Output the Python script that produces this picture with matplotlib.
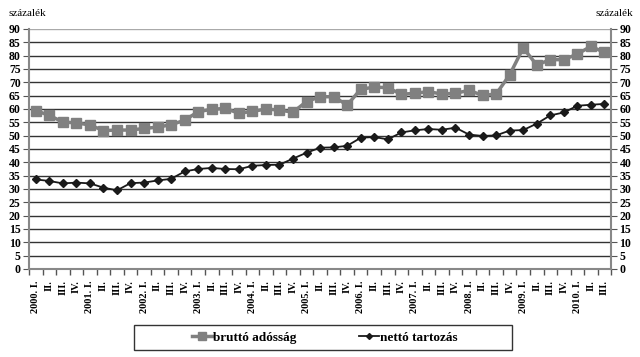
import matplotlib
matplotlib.use("Agg")
import matplotlib.pyplot as plt
from matplotlib.ticker import FixedLocator
from matplotlib.patches import Rectangle

years = list(range(2000, 2011))
quarters = ["I.", "II.", "III.", "IV."]
labels = []
for y in years:
    for qi, q in enumerate(quarters):
        if y == 2010 and qi == 3:
            break
        labels.append(f"{y}. {q}" if qi == 0 else q)

brutto = [59.4, 57.6, 55.1, 54.8, 54.0, 51.9, 52.1, 52.1, 52.7, 53.2, 54.1, 55.8,
          59.0, 59.9, 60.2, 58.4, 59.1, 60.0, 59.6, 58.8, 62.8, 64.6, 64.6, 61.5,
          67.4, 68.2, 68.0, 65.5, 65.9, 66.5, 65.6, 65.9, 67.0, 65.1, 65.6, 72.8,
          82.9, 76.5, 78.5, 78.5, 80.6, 83.5, 81.2]
netto = [33.6, 33.0, 32.1, 32.4, 32.1, 30.5, 29.5, 32.2, 32.4, 33.2, 33.8, 36.6,
         37.5, 37.9, 37.5, 37.4, 38.7, 39.0, 39.1, 41.4, 43.6, 45.5, 45.6, 46.2,
         49.2, 49.5, 48.6, 51.2, 52.0, 52.5, 52.2, 53.0, 50.4, 49.9, 50.1, 51.9,
         52.1, 54.5, 57.6, 58.7, 61.2, 61.6, 61.9]
series_names = ["bruttó adósság", "nettó tartozás"]
yticks = list(range(0, 91, 5))

plt.rcParams['font.family'] = ['Liberation Serif', 'DejaVu Serif']

fig = plt.figure(figsize=(6.4, 3.57), dpi=100)
ax = fig.add_axes([0.0453, 0.2465, 0.9097, 0.6723])

x = list(range(len(labels)))
l1, = ax.plot(x, brutto, color="#808080", lw=2.5, marker="s", ms=7.5,
              mfc="#808080", mec="#808080", label=series_names[0], zorder=3)
l2, = ax.plot(x, netto, color="#1a1a1a", lw=1.3, marker="D", ms=4,
              mfc="#1a1a1a", mec="#1a1a1a", label=series_names[1], zorder=4)

ax.set_xlim(-0.5, len(labels) - 0.5)
ax.set_ylim(0, 90)
ax.set_yticks(yticks)
for yv in yticks[1:]:
    ax.axhline(yv, color="#aaaaaa" if yv == 90 else "#333333", lw=1.0, zorder=1)

ax.set_xticks(x)
ax.set_xticklabels(labels, rotation=90, fontsize=7.5, fontweight='bold')
ax.xaxis.set_minor_locator(FixedLocator([i - 0.5 for i in range(len(labels) + 1)]))
ax.tick_params(axis='x', which='major', length=0, pad=8)
ax.tick_params(axis='x', which='minor', length=4, color="#555555", width=1)
ax.tick_params(axis='y', which='major', length=4, color="#555555", labelsize=8.5,
               left=True, right=True, labelleft=True, labelright=True, pad=2)
for t in ax.yaxis.get_major_ticks():
    t.label1.set_fontweight('bold')
    t.label2.set_fontweight('bold')

ax.spines["top"].set_visible(False)
for s in ["left", "right", "bottom"]:
    ax.spines[s].set_color("#888888")
    ax.spines[s].set_linewidth(1.5)

fig.text(0.014, 0.962, "százalék", fontsize=8, ha='left', va='center')
fig.text(0.990, 0.962, "százalék", fontsize=8, ha='right', va='center')

# legend box frame
box = Rectangle((134 / 640, 1 - 350 / 357), (512 - 134) / 640, 25 / 357,
                transform=fig.transFigure, fill=False, edgecolor="#333333", lw=1.0)
fig.add_artist(box)

leg = fig.legend(handles=[l1, l2], loc='center', bbox_to_anchor=(325 / 640, 1 - 337.5 / 357),
                 ncol=2, frameon=False,
                 handlelength=1.5, handletextpad=0.1, markerscale=0.75,
                 columnspacing=4.7, borderpad=0, borderaxespad=0,
                 prop={'weight': 'bold', 'size': 9.5})

fig.savefig("out.png", dpi=100)
